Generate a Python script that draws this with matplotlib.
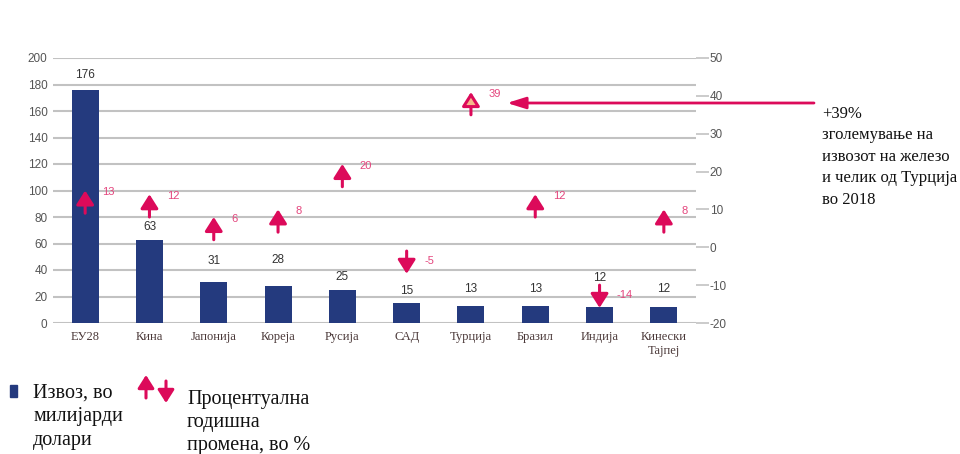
import matplotlib
matplotlib.use("Agg")
import matplotlib.pyplot as plt
from matplotlib.patches import Rectangle, FancyArrowPatch

# Datos
paises = ["ЕУ28", "Кина", "Јапонија", "Кореја", "Русија", "САД",
          "Турција", "Бразил", "Индија", "Кинески\nТајпеј"]
izvoz = [176, 63, 31, 28, 25, 15, 13, 13, 12, 12]
promena = [13, 12, 6, 8, 20, -5, 39, 12, -14, 8]
izvoz_ticks = [0, 20, 40, 60, 80, 100, 120, 140, 160, 180, 200]
promena_ticks = [-20, -10, 0, 10, 20, 30, 40, 50]
anotacija = "+39%\nзголемување на\nизвозот на железо\nи челик од Турција\nво 2018"
leyenda_izvoz = "Извоз, во\nмилијарди\nдолари"
leyenda_promena = "Процентуална\nгодишна\nпромена, во %"

# Estilo
AZUL = "#243a7e"
ROSA = "#dc0a5a"
ROSA_TXT = "#e4457d"
GRIS = "#c2c2c2"
label_offsets = [11, 9, 15, 19, 9, 9, 12, 12, 21, 13]  # puntos sobre la barra

plt.rcParams["font.family"] = ["Liberation Sans", "DejaVu Sans"]
plt.rcParams["axes.unicode_minus"] = False

fig = plt.figure(figsize=(9.6, 4.54), dpi=100)
ax = fig.add_axes([53 / 960, 1 - 323 / 454, 643 / 960, 265 / 454])
ax2 = ax.twinx()

x = list(range(len(paises)))

# Cuadrícula
ax.set_ylim(0, 200)
ax.set_xlim(-0.5, len(paises) - 0.5)
ax.set_yticks(izvoz_ticks)
ax.grid(axis="y", color=GRIS, linewidth=1.5)
ax.set_axisbelow(True)
for s in ax.spines.values():
    s.set_visible(False)
for s in ax2.spines.values():
    s.set_visible(False)

# Barras
ax.bar(x, izvoz, width=0.42, color=AZUL, zorder=3)
for xi, v, off in zip(x, izvoz, label_offsets):
    ax.annotate(str(v), xy=(xi, v), xytext=(0, off), textcoords="offset points",
                ha="center", va="center", fontsize=8.5, color="#333333")

ax.tick_params(axis="y", length=0, pad=4, labelsize=8.5, labelcolor="#555555")
ax.set_xticks(x)
ax.set_xticklabels(paises, family=["Liberation Serif"], fontsize=9, color="#4a3838",
                   linespacing=1.2)
ax.tick_params(axis="x", length=0, pad=6)

# Eje derecho: variación porcentual
ax2.set_ylim(-20, 50)
ax2.set_yticks(promena_ticks)
ax2.tick_params(axis="y", length=9, width=1.2, color=GRIS, pad=1,
                labelsize=8.5, labelcolor="#555555")

for xi, p in zip(x, promena):
    sgn = 1 if p > 0 else -1
    tail = p - 4 * sgn
    tip = p + 2 * sgn
    fc = "#f6b78a" if p == max(promena) else ROSA
    ax2.annotate("", xy=(xi, tip), xytext=(xi, tail),
                 arrowprops=dict(arrowstyle="-|>,head_length=0.6,head_width=0.38",
                                 mutation_scale=14, lw=2.2, ec=ROSA, fc=fc,
                                 shrinkA=0, shrinkB=0), zorder=4)
    ax2.annotate(str(p), xy=(xi, p + 1.5), xytext=(12.5, 0), textcoords="offset points",
                 ha="left", va="center", fontsize=8, color=ROSA_TXT)

# Flecha de anotación (Turquía)
i_tur = promena.index(max(promena))
y_flecha = 1 - 103 / 454
ax2.annotate("", xy=(i_tur + 0.56, y_flecha), xycoords=("data", "figure fraction"),
             xytext=(814 / 960, y_flecha), textcoords="figure fraction",
             arrowprops=dict(arrowstyle="-|>,head_length=0.8,head_width=0.25",
                             mutation_scale=14, lw=2, color=ROSA,
                             shrinkA=0, shrinkB=0), annotation_clip=False)
fig.text(822 / 960, 1 - 106 / 454, anotacija, family=["Liberation Serif"],
         fontsize=12, va="top", ha="left", linespacing=1.45, color="#111111")

# Leyenda
fig.patches.append(Rectangle((10 / 960, 1 - 397 / 454), 7 / 960, 12 / 454,
                             transform=fig.transFigure, color=AZUL))
fig.text(33 / 960, 1 - 384 / 454, leyenda_izvoz, family=["Liberation Serif"],
         fontsize=14.5, va="top", ha="left", linespacing=1.32, color="#111111")
for xa, y0, y1 in [(146, 398, 375), (166, 381, 403)]:
    fig.add_artist(FancyArrowPatch(
        (xa / 960, 1 - y0 / 454), (xa / 960, 1 - y1 / 454),
        transform=fig.transFigure,
        arrowstyle="-|>,head_length=0.6,head_width=0.38",
        mutation_scale=13, lw=2.2, color=ROSA, shrinkA=0, shrinkB=0))
fig.text(187 / 960, 1 - 390 / 454, leyenda_promena, family=["Liberation Serif"],
         fontsize=14.5, va="top", ha="left", linespacing=1.3, color="#111111")

fig.savefig("out.png", dpi=100)
